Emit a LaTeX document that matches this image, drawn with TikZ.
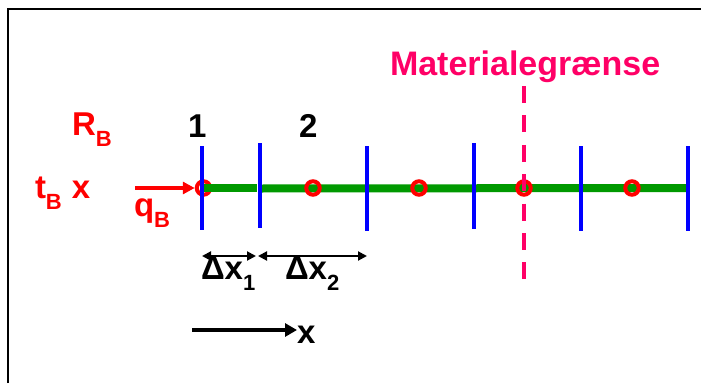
\documentclass[tikz,border=0pt]{standalone}
\usepackage{fontspec}
\setmainfont{Liberation Sans}
\usetikzlibrary{arrows.meta}
\definecolor{mred}{RGB}{255,0,0}
\definecolor{mpink}{RGB}{255,0,102}
\definecolor{mgreen}{RGB}{0,153,0}
\definecolor{mblue}{RGB}{0,0,255}
\newcommand{\bigf}{\fontsize{33}{33}\selectfont\bfseries}
\newcommand{\subf}{\fontsize{22}{22}\selectfont\bfseries}
\newcommand{\lsub}[1]{\raisebox{-11pt}{\subf #1}}
\tikzset{
  lbl/.style={inner sep=0pt, outer sep=0pt, font=\bigf, anchor=base west},
  face/.style={line width=4pt, mblue},
  bar/.style={line width=8pt, mgreen},
  knot/.style={circle, draw=mred, line width=4pt, minimum size=13.5pt, inner sep=0pt},
  dim/.style={line width=2pt, {Triangle[length=9pt,width=9pt]}-{Triangle[length=9pt,width=9pt]}},
}
\begin{document}
\begin{tikzpicture}[x=1pt,y=-1pt]
\useasboundingbox (0,0) rectangle (701,383);
% frame
\draw[line width=2.2pt] (8,383) -- (8,9) -- (701,9);

% cell faces coordinates
\foreach \n/\x/\t/\b in {1/202/146/230, 2/260/143/228, 3/367/146/231, 4/474/143/229, 5/581/146/231, 6/688/146/231}{
  \coordinate (ft\n) at (\x,\t);
  \coordinate (fb\n) at (\x,\b);
  \coordinate (fm\n) at (\x,188);
}
% green bar (main)
\coordinate (g1s) at (203,187.5);
\coordinate (g1e) at (257,187.5);
\coordinate (g2s) at (260,188.5);
\draw[bar] (g2s) -- (fm6);

% nodes (red circles)
\node[knot] (k1) at (203.5,188) {};
\node[knot] (k2) at (313,188) {};
\node[knot] (k3) at (419,188) {};
\node[knot] (k4) at (524,188) {};
\node[knot] (k5) at (632,188) {};

% first green segment on top of first circle
\draw[bar] (g1s) -- (g1e);

% blue faces
\foreach \n in {1,...,6}{ \draw[face] (ft\n) -- (fb\n); }

% material boundary
\coordinate (mbt) at (524,86);
\coordinate (mbb) at (524,282);
\draw[mpink, line width=3.5pt, dash pattern=on 17pt off 12.4pt] (mbt) -- (mbb);
\node[lbl, mpink, font=\fontsize{34}{34}\selectfont\bfseries] (mat) at (390,75) {Materialegrænse};

% boundary flux arrow
\coordinate (qs) at (135,188);
\draw[mred, line width=4pt, -{Triangle[length=12pt,width=12pt]}] (qs) -- (k1.west);

% labels
\node[lbl, mred] (rb) at (72,135) {R\lsub{B}};
\node[lbl, mred] (tb) at (35,198) {t\lsub{B}\hspace{10pt}x};
\node[lbl, mred] (qb) at (134,216) {q\lsub{B}};
\node[lbl] (n1) at (188,137) {1};
\node[lbl] (n2) at (299,137) {2};

% dimension arrows
\coordinate (d1s) at (202,256);
\coordinate (d1e) at (256,256);
\coordinate (d2s) at (258,256);
\coordinate (d2e) at (367,256);
\draw[dim] (d1s) -- (d1e);
\draw[dim] (d2s) -- (d2e);
\node[lbl] (dx1) at (201,279) {Δx\lsub{1}};
\node[lbl] (dx2) at (285,279) {Δx\lsub{2}};

% x axis arrow
\coordinate (xs) at (192,330);
\coordinate (xe) at (297,330);
\node[lbl] (xl) at (297,343) {x};
\draw[line width=4pt, -{Triangle[length=12pt,width=13pt]}] (xs) -- (xe);
\end{tikzpicture}
\end{document}
